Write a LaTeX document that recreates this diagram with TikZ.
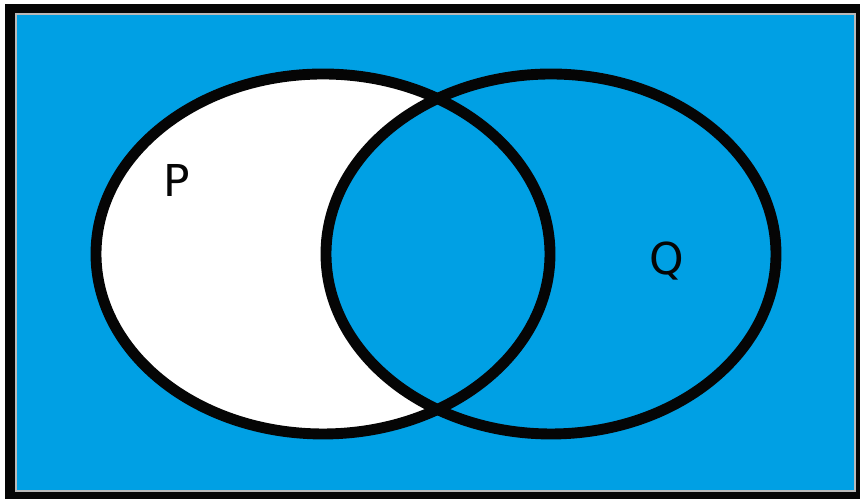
\documentclass[tikz,border=0pt]{standalone}
\usepackage{fontspec}
\setsansfont{DejaVu Sans}
\usetikzlibrary{positioning}
\definecolor{vnsky}{RGB}{0,160,228}
\definecolor{vnink}{HTML}{050505}
\tikzset{
  frame/.style={fill=vnink},
  field/.style={fill=vnsky,draw=gray!55,line width=0.8pt},
  setline/.style={draw=vnink,line width=6.2pt},
  setlab/.style={font=\sffamily\fontsize{25}{30}\selectfont,text=vnink,inner sep=0pt},
}
\begin{document}
\begin{tikzpicture}[x=0.02cm,y=0.02cm]
  \useasboundingbox (0,0) rectangle (860,499);
  % frame and universe
  \fill[white] (0,0) rectangle (860,499);
  \fill[frame] (5,0) rectangle (860,495);
  \filldraw[field] (16,8) rectangle (855,485);

  % ---------- sets ----------
  \fill[white] (323,245) ellipse [x radius=227, y radius=180];
  \fill[vnsky] (551,245) ellipse [x radius=225, y radius=180];
  \draw[setline] (323,245) ellipse [x radius=227, y radius=180];
  \draw[setline] (551,245) ellipse [x radius=225, y radius=180];

  % labels
  \node[setlab] (labP) at (177,318) {P};
  \node[setlab] (labQ) at (667,238) {Q};
\end{tikzpicture}
\end{document}
